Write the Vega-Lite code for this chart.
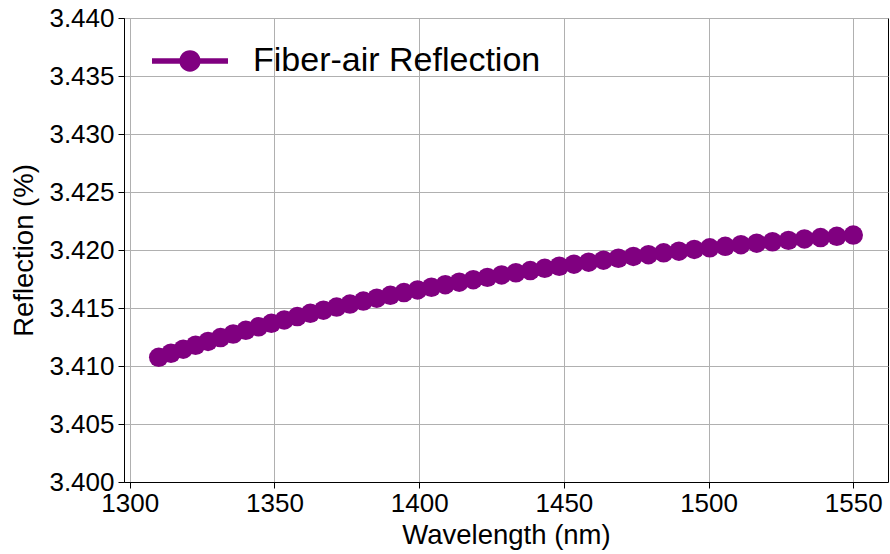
{
  "$schema": "https://vega.github.io/schema/vega-lite/v6.json",
  "width": 764,
  "height": 464,
  "autosize": {"type": "none"},
  "padding": {"left": 124, "top": 18, "right": 2, "bottom": 72},
  "background": "white",
  "data": {"values": [
    {"wl": 1310.0, "r": 3.41075}, {"wl": 1314.22, "r": 3.41110}, {"wl": 1318.47, "r": 3.41145}, {"wl": 1322.74, "r": 3.41179},
    {"wl": 1327.04, "r": 3.41212}, {"wl": 1331.37, "r": 3.41245}, {"wl": 1335.72, "r": 3.41276}, {"wl": 1340.09, "r": 3.41308},
    {"wl": 1344.50, "r": 3.41338}, {"wl": 1348.93, "r": 3.41368}, {"wl": 1353.38, "r": 3.41397}, {"wl": 1357.87, "r": 3.41426},
    {"wl": 1362.38, "r": 3.41454}, {"wl": 1366.92, "r": 3.41481}, {"wl": 1371.48, "r": 3.41508}, {"wl": 1376.08, "r": 3.41534},
    {"wl": 1380.70, "r": 3.41560}, {"wl": 1385.35, "r": 3.41585}, {"wl": 1390.03, "r": 3.41609}, {"wl": 1394.73, "r": 3.41633},
    {"wl": 1399.47, "r": 3.41656}, {"wl": 1404.23, "r": 3.41679}, {"wl": 1409.02, "r": 3.41701}, {"wl": 1413.84, "r": 3.41723},
    {"wl": 1418.69, "r": 3.41744}, {"wl": 1423.57, "r": 3.41764}, {"wl": 1428.48, "r": 3.41785}, {"wl": 1433.42, "r": 3.41804},
    {"wl": 1438.38, "r": 3.41823}, {"wl": 1443.38, "r": 3.41842}, {"wl": 1448.41, "r": 3.41860}, {"wl": 1453.47, "r": 3.41878},
    {"wl": 1458.56, "r": 3.41895}, {"wl": 1463.68, "r": 3.41912}, {"wl": 1468.83, "r": 3.41929}, {"wl": 1474.01, "r": 3.41945},
    {"wl": 1479.23, "r": 3.41960}, {"wl": 1484.47, "r": 3.41976}, {"wl": 1489.75, "r": 3.41990}, {"wl": 1495.06, "r": 3.42005},
    {"wl": 1500.40, "r": 3.42019}, {"wl": 1505.77, "r": 3.42032}, {"wl": 1511.18, "r": 3.42046}, {"wl": 1516.62, "r": 3.42059},
    {"wl": 1522.09, "r": 3.42071}, {"wl": 1527.60, "r": 3.42083}, {"wl": 1533.13, "r": 3.42095}, {"wl": 1538.70, "r": 3.42107},
    {"wl": 1544.31, "r": 3.42118}, {"wl": 1550.0, "r": 3.42129}
  ]},
  "encoding": {
    "x": {
      "field": "wl", "type": "quantitative",
      "scale": {"domain": [1298, 1562], "nice": false, "zero": false},
      "axis": {"title": "Wavelength (nm)", "values": [1300, 1350, 1400, 1450, 1500, 1550], "format": "d", "labelPadding": 2, "titlePadding": 5}
    },
    "y": {
      "field": "r", "type": "quantitative",
      "scale": {"domain": [3.4, 3.44], "nice": false, "zero": false},
      "axis": {"title": "Reflection (%)", "values": [3.4, 3.405, 3.41, 3.415, 3.42, 3.425, 3.43, 3.435, 3.44], "format": ".3f", "labelPadding": 4, "titlePadding": 10}
    },
    "color": {
      "datum": "Fiber-air Reflection", "type": "nominal",
      "scale": {"range": ["#800080"]},
      "legend": {
        "title": null,
        "orient": "none",
        "legendX": 28,
        "legendY": 5,
        "padding": 0,
        "symbolType": "M-1,-0.07H-0.2V0.07H-1Z M0.2,-0.07H1V0.07H0.2Z M-0.28,0A0.28,0.28 0 1,1 0.28,0A0.28,0.28 0 1,1 -0.28,0Z",
        "symbolSize": 5776,
        "symbolFillColor": "#800080",
        "symbolStrokeWidth": 0,
        "symbolOpacity": 1,
        "labelFont": "Liberation Sans",
        "labelFontSize": 34,
        "labelColor": "black",
        "labelOffset": 25,
        "labelLimit": 600
      }
    }
  },
  "layer": [
    {"mark": {"type": "line", "strokeWidth": 4}},
    {"mark": {"type": "circle", "size": 380, "opacity": 1}}
  ],
  "config": {
    "view": {"stroke": "black", "strokeWidth": 1},
    "axis": {
      "domainColor": "black",
      "domainWidth": 1,
      "tickColor": "black",
      "tickSize": 6,
      "tickWidth": 1,
      "gridColor": "#b0b0b0",
      "gridWidth": 1,
      "labelFont": "Liberation Sans",
      "labelFontSize": 26,
      "labelColor": "black",
      "titleFont": "Liberation Sans",
      "titleFontSize": 27.5,
      "titleFontWeight": "normal",
      "titleColor": "black"
    }
  }
}
